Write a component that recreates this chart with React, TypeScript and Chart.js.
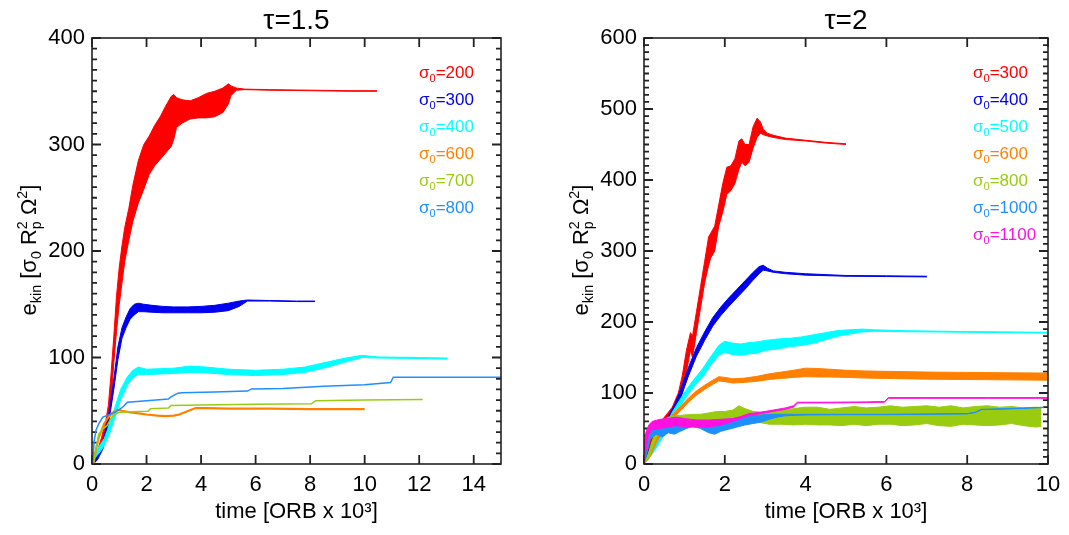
import React, { useEffect, useRef } from "react";
import { Chart, registerables } from "chart.js";

Chart.register(...registerables);

// ---------------- LEFT PANEL (tau = 1.5) ----------------
const L_LABELS = ["200", "300", "400", "600", "700", "800"];

const L200_T = [0.05, 0.2, 0.35, 0.5, 0.6, 0.7, 0.8, 0.9, 1.0, 1.1, 1.2, 1.35, 1.5, 1.7, 1.9, 2.1, 2.3, 2.5, 2.7, 2.9, 3.0, 3.1, 3.3, 3.6, 3.9, 4.2, 4.5, 4.8, 5.0, 5.1, 5.3, 5.6, 6.5, 8.0, 9.5, 10.45];
const L200_HI = [0, 12, 25, 40, 55, 85, 120, 158, 185, 205, 222, 240, 262, 285, 300, 308, 318, 326, 336, 345, 347, 344, 342, 341, 344, 348, 350, 353, 357, 355, 353, 352, 351.5, 351, 350.5, 350.5];
const L200_LO = [0, 5, 15, 30, 42, 60, 95, 125, 150, 170, 190, 210, 228, 245, 258, 272, 280, 286, 292, 298, 305, 316, 320, 324, 325, 325, 326, 330, 338, 346, 351, 351.5, 351, 350.5, 350, 350];

const L300_T = [0.05, 0.2, 0.4, 0.55, 0.65, 0.8, 0.95, 1.1, 1.25, 1.4, 1.55, 1.7, 1.9, 2.2, 2.6, 3.0, 3.5, 4.0, 4.5, 5.0, 5.4, 5.7, 6.5, 7.5, 8.18];
const L300_HI = [0, 8, 20, 38, 52, 80, 110, 128, 138, 146, 150, 151, 150, 149, 148, 147.5, 147.5, 148, 149, 151, 153, 154, 153.5, 153, 153];
const L300_LO = [0, 4, 14, 30, 45, 70, 98, 118, 128, 136, 140, 143, 143, 142.5, 142, 142, 142, 142, 142.5, 144, 148, 153, 153, 152.5, 152.5];

const L400_T = [0.05, 0.25, 0.45, 0.65, 0.85, 1.05, 1.3, 1.5, 1.7, 2.0, 2.5, 3.0, 3.6, 4.2, 5.0, 6.0, 7.0, 7.8, 8.5, 9.2, 9.9, 10.5, 12.0, 13.04];
const L400_HI = [8, 16, 24, 38, 54, 70, 82, 88, 91, 89, 89.5, 90, 92, 91, 89, 88, 89, 91, 95, 99, 102, 100.5, 100, 99.5];
const L400_LO = [4, 10, 17, 29, 44, 60, 74, 81, 84, 84, 84.5, 85, 86, 85.5, 84, 83, 84, 86, 90, 95, 100, 99.5, 99, 98.5];

const L600_T = [0.05, 0.15, 0.25, 0.45, 0.6, 0.75, 0.95, 1.1, 1.4, 1.7, 2.0, 2.4, 2.7, 3.0, 3.2, 3.5, 3.8, 4.2, 5.0, 6.5, 8.0, 10.0];
const L600_V = [0, 14, 25, 38, 44, 48, 51, 50, 48.5, 47.5, 46.5, 45.5, 45, 45.5, 46.5, 49.5, 52.5, 52.5, 52, 52, 51.5, 51.5];

const L700_T = [0.05, 0.15, 0.25, 0.4, 0.55, 0.7, 0.85, 1.0, 1.5, 2.05, 2.15, 2.8, 2.9, 4.0, 6.0, 8.05, 8.2, 10.0, 12.13];
const L700_V = [0, 15, 28, 33, 36, 43, 47, 48.5, 49, 49.5, 52, 52.5, 55, 55.5, 56, 56.5, 59.5, 60, 60.5];

const L800_T = [0.02, 0.08, 0.15, 0.25, 0.4, 0.6, 0.8, 1.0, 1.15, 1.3, 2.0, 2.8, 2.9, 3.0, 3.15, 3.3, 4.5, 5.7, 5.85, 7.0, 8.5, 10.0, 10.95, 11.05, 13.0, 15.0];
const L800_V = [0, 22, 32, 38, 44, 46, 48, 51, 54, 58, 59.5, 61, 63, 64.5, 66.5, 67, 67.5, 68.5, 70.5, 71, 73, 74.5, 76.5, 81.5, 81.5, 81.5];

// ---------------- RIGHT PANEL (tau = 2) ----------------
const R_LABELS = ["300", "400", "500", "600", "800", "1000", "1100"];

const R300_T = [0.0, 0.1, 0.25, 0.45, 0.7, 0.85, 0.95, 1.05, 1.15, 1.2, 1.3, 1.4, 1.5, 1.6, 1.65, 1.75, 1.85, 1.95, 2.05, 2.15, 2.25, 2.35, 2.42, 2.5, 2.6, 2.7, 2.8, 2.88, 2.95, 3.05, 3.2, 3.5, 4.0, 4.5, 5.0];
const R300_HI = [0, 25, 48, 62, 80, 100, 125, 160, 185, 180, 215, 250, 285, 320, 325, 335, 365, 395, 418, 420, 430, 455, 458, 450, 450, 475, 487, 482, 472, 466, 463, 459, 456, 453, 451];
const R300_LO = [0, 15, 38, 52, 70, 85, 100, 130, 160, 150, 185, 220, 255, 280, 290, 300, 335, 355, 380, 385, 395, 415, 425, 420, 425, 445, 460, 466, 464, 462, 460, 457, 455, 452, 450];

const R400_T = [0, 0.1, 0.25, 0.45, 0.6, 0.75, 0.9, 1.1, 1.3, 1.5, 1.7, 1.9, 2.1, 2.3, 2.5, 2.7, 2.85, 2.95, 3.05, 3.2, 3.5, 4.0, 5.0, 6.0, 7.0];
const R400_HI = [0, 18, 35, 54, 67, 83, 104, 136, 164, 186, 206, 221, 234, 246, 258, 270, 278, 280, 276, 272, 270, 268, 265.5, 265, 264.5];
const R400_LO = [0, 12, 29, 46, 57, 73, 92, 124, 152, 174, 194, 209, 222, 234, 246, 259, 268, 273, 272, 270, 268, 266, 264.5, 264, 263.5];

const R500_T = [0, 0.15, 0.3, 0.5, 0.7, 0.85, 1.05, 1.25, 1.45, 1.65, 1.85, 2.0, 2.2, 2.4, 2.6, 2.8, 3.0, 3.3, 3.6, 3.9, 4.2, 4.5, 4.8, 5.1, 5.4, 5.7, 6.5, 8.0, 10.0];
const R500_HI = [0, 14, 28, 49, 73, 87, 105, 120, 134, 151, 167, 173, 170, 169, 171, 172, 174, 176, 177, 179, 182, 185, 188, 189, 190, 189, 187.7, 186.5, 185.5];
const R500_LO = [0, 10, 22, 41, 63, 77, 95, 110, 122, 139, 153, 157, 154, 153, 155, 156, 160, 162, 165, 167, 170, 175, 180, 183, 186, 187, 186.3, 185.5, 184.5];

const R600_T = [0, 0.15, 0.3, 0.5, 0.7, 0.9, 1.1, 1.3, 1.5, 1.7, 1.85, 2.0, 2.2, 2.5, 2.8, 3.1, 3.4, 3.7, 4.0, 4.3, 4.6, 5.0, 5.5, 6.0, 7.0, 8.0, 9.0, 10.0];
const R600_HI = [0, 14, 35, 55, 69, 81, 93, 103, 111, 118, 123, 122, 120, 121, 123.5, 127, 129.5, 132, 135, 134.5, 133.5, 132, 131, 130.5, 129.5, 129, 128.5, 128];
const R600_LO = [0, 10, 29, 49, 63, 75, 87, 97, 105, 112, 117, 116, 114, 115, 116.5, 119, 120.5, 122, 123, 122.5, 122.5, 122, 121, 120.5, 119.5, 119, 118.5, 118];

const R800_T = [0, 0.1, 0.2, 0.3, 0.45, 0.6, 0.8, 1.0, 1.2, 1.4, 1.6, 1.8, 2.0, 2.2, 2.35, 2.5, 2.7, 2.9, 3.1, 3.4, 3.7, 4.0, 4.3, 4.6, 4.9, 5.2, 5.5, 5.8, 6.1, 6.4, 6.7, 7.0, 7.3, 7.6, 7.9, 8.2, 8.5, 8.8, 9.1, 9.4, 9.7, 9.84];
const R800_HI = [0, 14, 32, 46, 60, 66, 68, 69, 70, 70, 72, 74, 74, 76, 82, 78, 74, 73, 74, 76, 78, 80, 80, 77, 79, 81, 79, 80, 82, 80, 81, 82, 80, 82, 79, 81, 82, 80, 81, 79, 80, 79];
const R800_LO = [0, 6, 22, 36, 50, 56, 58, 59, 60, 60, 62, 63, 63, 62, 64, 62, 60, 58, 56, 56, 55, 56, 55, 55, 54, 56, 54, 56, 56, 54, 55, 57, 54, 53, 56, 55, 54, 55, 57, 54, 52, 53];

const R1000_T = [0, 0.05, 0.15, 0.3, 0.45, 0.6, 0.75, 0.9, 1.05, 1.2, 1.4, 1.6, 1.75, 1.9, 2.1, 2.3, 2.5, 2.7, 2.9, 3.1, 3.3, 3.5, 4.0, 5.0, 6.0, 7.0, 8.0, 8.2, 8.35, 9.0, 9.9];
const R1000_HI = [0, 20, 45, 56, 62, 64, 66, 62, 60, 62, 60, 58, 57, 59, 62, 65, 66, 68, 69, 70, 70, 70, 70, 70, 70, 70.5, 71, 73, 77, 78, 80];
const R1000_LO = [0, 10, 35, 42, 38, 44, 42, 46, 50, 53, 50, 44, 42, 46, 49, 52, 55, 57, 59, 63, 66, 68, 69, 69.5, 69.5, 70, 70.5, 72.5, 76.5, 77.5, 79.5];

const R1100_T = [0, 0.05, 0.12, 0.2, 0.4, 0.6, 0.8, 1.0, 1.3, 1.6, 1.9, 2.2, 2.4, 2.6, 2.9, 3.2, 3.5, 3.7, 3.8, 4.5, 5.5, 5.95, 6.05, 7.0, 8.5, 10.0];
const R1100_HI = [30, 45, 55, 60, 63, 64, 66, 64, 62, 62, 63, 64, 67, 71, 73, 76, 79, 82, 87, 87, 87.5, 88, 93.5, 93.5, 93.5, 93.5];
const R1100_LO = [0, 20, 42, 48, 50, 52, 54, 52, 52, 52, 55, 60, 64, 68, 71, 74, 77, 80, 86, 86, 86.5, 87, 92.5, 92.5, 92.5, 92.5];

// ---------------- styling ----------------
const FAM = '"Liberation Sans", Arial, Helvetica, sans-serif';
const C_RED = "#ff0000";
const C_BLUE = "#0000f0";
const C_CYAN = "#00ffff";
const C_ORANGE = "#ff8000";
const C_GREEN = "#99cc11";
const C_DBLUE = "#1e8fff";
const C_MAG = "#ff10e0";
const C_AXIS = "#222222";

const CANVAS_H = 535;
const PAD_TOP = 38;
const X_AXIS_H = 71;

const fnt = (s: number) => `${s}px ${FAM}`;

type Seg = { s: string; k: "n" | "sub" | "sup" | "ss"; s2?: string };

function richWidth(ctx: CanvasRenderingContext2D, segs: Seg[], size: number) {
  let w = 0;
  for (const g of segs) {
    if (g.k === "n") {
      ctx.font = fnt(size);
      w += ctx.measureText(g.s).width;
    } else {
      ctx.font = fnt(size * 0.65);
      let ww = ctx.measureText(g.s).width;
      if (g.k === "ss" && g.s2) ww = Math.max(ww, ctx.measureText(g.s2).width);
      w += ww;
    }
  }
  return w;
}

function drawRich(ctx: CanvasRenderingContext2D, segs: Seg[], x: number, y: number, size: number) {
  ctx.textAlign = "left";
  ctx.textBaseline = "alphabetic";
  for (const g of segs) {
    if (g.k === "n") {
      ctx.font = fnt(size);
      ctx.fillText(g.s, x, y);
      x += ctx.measureText(g.s).width;
    } else {
      const ss = size * 0.65;
      ctx.font = fnt(ss);
      let ww = ctx.measureText(g.s).width;
      if (g.k === "sub") ctx.fillText(g.s, x, y + size * 0.22);
      else if (g.k === "sup") ctx.fillText(g.s, x, y - size * 0.42);
      else {
        ctx.fillText(g.s, x, y - size * 0.42);
        if (g.s2) {
          ctx.fillText(g.s2, x, y + size * 0.22);
          ww = Math.max(ww, ctx.measureText(g.s2).width);
        }
      }
      x += ww;
    }
  }
}

const Y_TITLE: Seg[] = [
  { s: "e", k: "n" },
  { s: "kin", k: "sub" },
  { s: " [", k: "n" },
  { s: "σ", k: "n" },
  { s: "0", k: "sub" },
  { s: " R", k: "n" },
  { s: "2", k: "ss", s2: "p" },
  { s: " Ω", k: "n" },
  { s: "2", k: "sup" },
  { s: "]", k: "n" },
];

const decoPlugin = {
  id: "deco",
  afterDraw(chart: any, _args: any, opts: any) {
    const ctx: CanvasRenderingContext2D = chart.ctx;
    const a = chart.chartArea;
    ctx.save();
    ctx.strokeStyle = C_AXIS;
    ctx.lineWidth = 1.6;
    ctx.strokeRect(a.left, a.top, a.right - a.left, a.bottom - a.top);

    ctx.fillStyle = "#000";
    ctx.font = fnt(28);
    ctx.textAlign = "center";
    ctx.textBaseline = "alphabetic";
    ctx.fillText(opts.title, (a.left + a.right) / 2, 29);

    const leg = opts.legend as any[];
    for (let i = 0; i < leg.length; i++) {
      const e = leg[i];
      ctx.fillStyle = e.color;
      const segs: Seg[] = [
        { s: "σ", k: "n" },
        { s: "0", k: "sub" },
        { s: "=" + e.label, k: "n" },
      ];
      drawRich(ctx, segs, opts.legendX, 72 + i * 27 + 6, 17);
    }

    ctx.fillStyle = "#000";
    const w = richWidth(ctx, Y_TITLE, 22);
    ctx.translate(opts.yTitleX, 250);
    ctx.rotate(-Math.PI / 2);
    drawRich(ctx, Y_TITLE, -w / 2, 0, 22);
    ctx.restore();
  },
};

function pts(t: number[], v: number[]) {
  return t.map((x, i) => ({ x, y: v[i] }));
}

function band(t: number[], hi: number[], lo: number[], color: string, order: number) {
  const base = {
    borderColor: color,
    backgroundColor: color,
    borderWidth: 1,
    pointRadius: 0,
    tension: 0,
    order,
  };
  return [
    { ...base, data: pts(t, hi), fill: false },
    { ...base, data: pts(t, lo), fill: "-1" },
  ];
}

function line(t: number[], v: number[], color: string, order: number, width = 1.5) {
  return [
    {
      borderColor: color,
      backgroundColor: color,
      borderWidth: width,
      pointRadius: 0,
      tension: 0,
      fill: false,
      order,
      data: pts(t, v),
    },
  ];
}

// Inward IDL-style tick marks on all four sides, drawn as a gapped line
// dataset through the chart's own scales (tick values come from the axes).
function tickMarks(xMax: number, yMax: number, plotW: number, plotH: number) {
  const dx = (px: number) => (px * xMax) / plotW;
  const dy = (px: number) => (px * yMax) / plotH;
  const d: any[] = [];
  for (let v = 0; v <= xMax + 1e-9; v += 2) {
    d.push({ x: v, y: 0 }, { x: v, y: dy(9) }, { x: v, y: null });
    d.push({ x: v, y: yMax }, { x: v, y: yMax - dy(9) }, { x: v, y: null });
  }
  const n = Math.round(yMax / 10);
  for (let i = 0; i <= n; i++) {
    const v = i * 10;
    const L = i % 10 === 0 ? 9 : 5;
    d.push({ x: 0, y: v }, { x: dx(L), y: v }, { x: 0, y: null });
    d.push({ x: xMax, y: v }, { x: xMax - dx(L), y: v }, { x: xMax, y: null });
  }
  return {
    data: d,
    borderColor: C_AXIS,
    backgroundColor: C_AXIS,
    borderWidth: 1.8,
    pointRadius: 0,
    tension: 0,
    fill: false,
    spanGaps: false,
    order: 100,
    clip: 4,
  };
}

type PanelSpec = {
  datasets: any[];
  width: number;
  xMax: number;
  yMax: number;
  yWidth: number;
  padRight: number;
  title: string;
  legend: { label: string; color: string }[];
  legendX: number;
  yTitleX: number;
};

function makeConfig(p: PanelSpec): any {
  const tickFont = { family: FAM, size: 22 };
  const plotW = p.width - p.yWidth - p.padRight;
  const plotH = CANVAS_H - PAD_TOP - X_AXIS_H;
  return {
    type: "line",
    data: { datasets: [...p.datasets, tickMarks(p.xMax, p.yMax, plotW, plotH)] },
    options: {
      animation: false,
      responsive: false,
      events: [],
      layout: { padding: { top: PAD_TOP, right: p.padRight, bottom: 0, left: 0 } },
      scales: {
        x: {
          type: "linear",
          min: 0,
          max: p.xMax,
          ticks: {
            stepSize: 2,
            includeBounds: false,
            padding: 8,
            font: tickFont,
            color: "#000",
            maxRotation: 0,
            autoSkip: false,
          },
          grid: { display: false, drawTicks: false },
          border: { display: false },
          title: {
            display: true,
            text: "time [ORB x 10³]",
            font: { family: FAM, size: 22 },
            color: "#000",
            padding: { top: 0, bottom: 10 },
          },
          afterFit: (s: any) => {
            s.height = X_AXIS_H;
          },
        },
        y: {
          type: "linear",
          min: 0,
          max: p.yMax,
          ticks: {
            stepSize: 100,
            padding: 7,
            font: tickFont,
            color: "#000",
            autoSkip: false,
          },
          grid: { display: false, drawTicks: false },
          border: { display: false },
          afterFit: (s: any) => {
            s.width = p.yWidth;
          },
        },
      },
      plugins: {
        legend: { display: false },
        tooltip: { enabled: false },
        deco: {
          title: p.title,
          legend: p.legend,
          legendX: p.legendX,
          yTitleX: p.yTitleX,
        },
      },
    },
    plugins: [decoPlugin],
  };
}

function leftSpec(): PanelSpec {
  const colors = [C_RED, C_BLUE, C_CYAN, C_ORANGE, C_GREEN, C_DBLUE];
  const datasets = [
    ...band(L200_T, L200_HI, L200_LO, C_RED, 6),
    ...band(L300_T, L300_HI, L300_LO, C_BLUE, 5),
    ...band(L400_T, L400_HI, L400_LO, C_CYAN, 4),
    ...line(L600_T, L600_V, C_ORANGE, 3, 2.2),
    ...line(L700_T, L700_V, C_GREEN, 2, 1.5),
    ...line(L800_T, L800_V, C_DBLUE, 1, 1.5),
  ];
  return {
    datasets,
    width: 534,
    xMax: 15,
    yMax: 400,
    yWidth: 92,
    padRight: 33,
    title: "τ=1.5",
    legend: L_LABELS.map((label, i) => ({ label, color: colors[i] })),
    legendX: 419,
    yTitleX: 36,
  };
}

function rightSpec(): PanelSpec {
  const colors = [C_RED, C_BLUE, C_CYAN, C_ORANGE, C_GREEN, C_DBLUE, C_MAG];
  const datasets = [
    ...band(R300_T, R300_HI, R300_LO, C_RED, 7),
    ...band(R400_T, R400_HI, R400_LO, C_BLUE, 6),
    ...band(R500_T, R500_HI, R500_LO, C_CYAN, 5),
    ...band(R600_T, R600_HI, R600_LO, C_ORANGE, 4),
    ...band(R800_T, R800_HI, R800_LO, C_GREEN, 3),
    ...band(R1000_T, R1000_HI, R1000_LO, C_DBLUE, 2),
    ...band(R1100_T, R1100_HI, R1100_LO, C_MAG, 1),
  ];
  return {
    datasets,
    width: 535,
    xMax: 10,
    yMax: 600,
    yWidth: 110,
    padRight: 21,
    title: "τ=2",
    legend: R_LABELS.map((label, i) => ({ label, color: colors[i] })),
    legendX: 439,
    yTitleX: 54,
  };
}

function Panel({ spec, width }: { spec: () => PanelSpec; width: number }) {
  const ref = useRef<HTMLCanvasElement>(null);
  useEffect(() => {
    const chart = new Chart(ref.current as HTMLCanvasElement, makeConfig(spec()));
    return () => chart.destroy();
  }, []);
  return (
    <div style={{ width, height: CANVAS_H, position: "relative" }}>
      <canvas ref={ref} width={width} height={CANVAS_H} style={{ display: "block" }} />
    </div>
  );
}

export default function App() {
  return (
    <div
      style={{
        position: "absolute",
        left: 0,
        top: 0,
        width: 1069,
        height: CANVAS_H,
        display: "flex",
        background: "#fff",
      }}
    >
      <Panel spec={leftSpec} width={534} />
      <Panel spec={rightSpec} width={535} />
    </div>
  );
}
